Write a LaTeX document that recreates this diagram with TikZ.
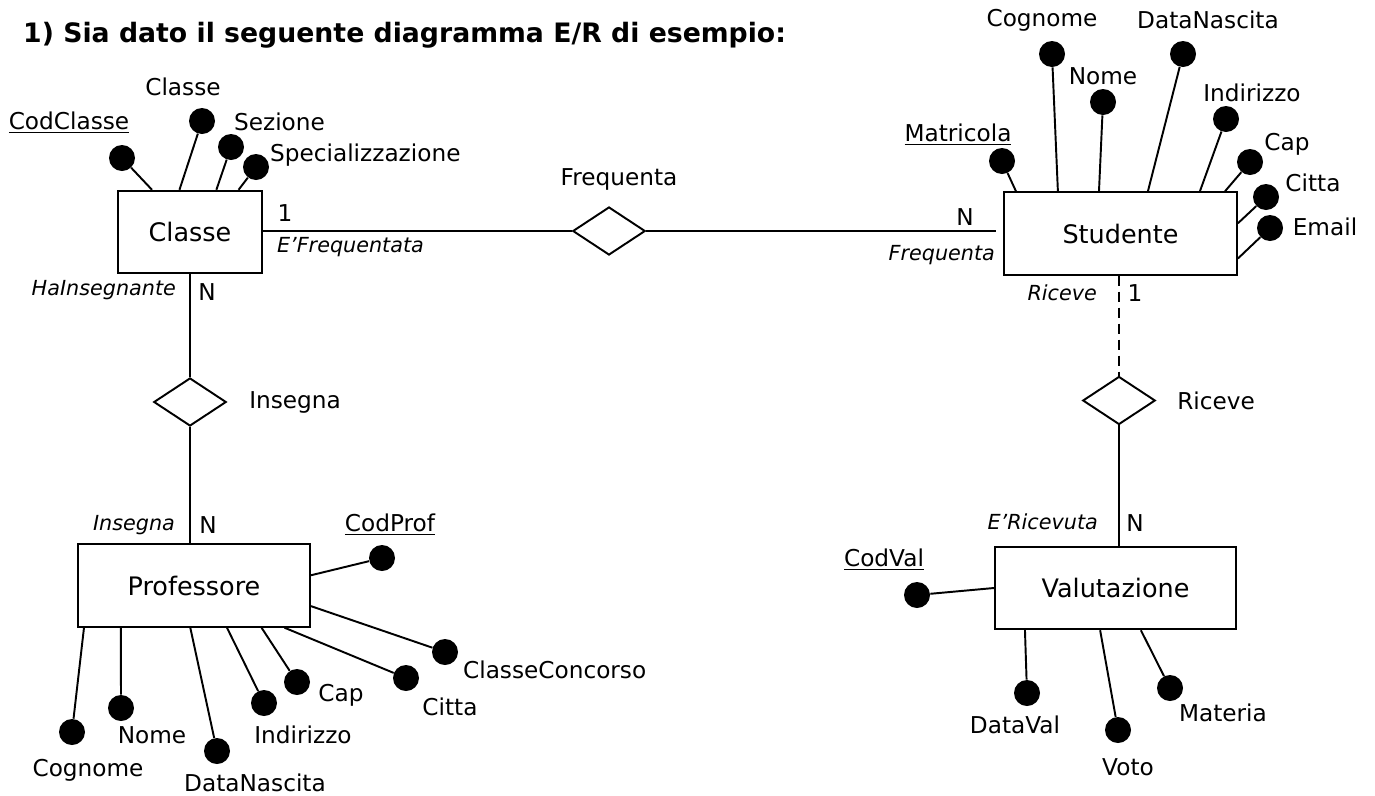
\documentclass[tikz,border=0pt]{standalone}
\usepackage{fontspec}
\setmainfont{DejaVu Sans}
\usetikzlibrary{shapes.geometric,positioning}

\begin{document}
\begin{tikzpicture}[
    x=0.2mm, y=-0.2mm,
    entity/.style={rectangle, draw, line width=1.1pt, minimum height=1.65cm, font=\fontsize{14.5}{17}\selectfont},
    relation/.style={diamond, draw, line width=1.1pt, minimum width=1.45cm, minimum height=0.96cm, inner sep=0pt},
    attr/.style={circle, fill=black, minimum size=0.52cm, inner sep=0pt},
    txt/.style={font=\fontsize{13.2}{15}\selectfont, inner sep=1pt},
    role/.style={font=\itshape\fontsize{11.8}{14}\selectfont, inner sep=1pt},
    link/.style={line width=1.1pt}
]
\useasboundingbox (0,0) rectangle (1375,796);

% Title
\node[anchor=west, font=\bfseries\fontsize{15.2}{18}\selectfont] (titolo) at (17,35) {1) Sia dato il seguente diagramma E/R di esempio:};

% Entities
\node[entity, minimum width=2.88cm] (classe) at (190,232) {Classe};
\node[entity, minimum width=4.66cm] (studente) at (1120.5,233.5) {Studente};
\node[entity, minimum width=4.64cm] (prof) at (194,585.5) {Professore};
\node[entity, minimum width=4.82cm] (valut) at (1115.5,588) {Valutazione};

% Relationships
\node[relation] (frequenta) at (609,231) {};
\node[relation] (insegna) at (190,402) {};
\node[relation] (riceve) at (1119,400.5) {};
\node[txt, above=0.28cm of frequenta, xshift=0.2cm] (frequentaL) {Frequenta};
\node[txt, right=0.4cm of insegna] (insegnaL) {Insegna};
\node[txt, right=0.38cm of riceve] (riceveL) {Riceve};

% Links between entities
\draw[link] (classe.east |- frequenta) -- (frequenta);
\draw[link, shorten >=0.14cm] (frequenta) -- (frequenta -| studente.west);
\draw[link] (classe) -- (insegna);
\draw[link] (insegna) -- (insegna |- prof.north);
\draw[link, dash pattern=on 2mm off 1.2mm] (riceve |- studente.south) -- (riceve);
\draw[link] (riceve) -- (riceve |- valut.north);

% Cardinalities and roles
\node[txt] (c1) at (285,213) {1};
\node[role, anchor=west] (r1) at (275,247) {E’Frequentata};
\node[txt] (c2) at (965,217) {N};
\node[role, anchor=east] (r2) at (997,255) {Frequenta};
\node[role, anchor=east] (r3) at (178,290) {HaInsegnante};
\node[txt] (c3) at (207,292) {N};
\node[role, anchor=east] (r4) at (177,525) {Insegna};
\node[txt] (c4) at (208,525) {N};
\node[role, anchor=east] (r5) at (1099,293) {Riceve};
\node[txt] (c5) at (1135,293) {1};
\node[role, anchor=east] (r6) at (1100,522) {E’Ricevuta};
\node[txt] (c6) at (1135,523) {N};

% Attributes of Classe
\node[attr] (codclasse) at (122,158) {};
\node[txt] at (69,123) {\underline{CodClasse}};
\draw[link] (codclasse) -- (classe.132);
\node[attr] (nomeclasse) at (202,121) {};
\node[txt] at (183,87) {Classe};
\draw[link] (nomeclasse) -- (classe.104);
\node[attr] (sezione) at (231,147) {};
\node[txt, anchor=west] at (232,122) {Sezione};
\draw[link] (sezione) -- (classe.58);
\node[attr] (spec) at (256,167) {};
\node[txt, anchor=west] at (268,155) {Specializzazione};
\draw[link] (spec) -- (classe.41);

% Attributes of Studente
\node[attr] (matricola) at (1002,161) {};
\node[txt] at (958,135) {\underline{Matricola}};
\draw[link] (matricola) -- (studente.158);
\node[attr] (scognome) at (1052,54) {};
\node[txt] at (1042,20) {Cognome};
\draw[link] (scognome) -- (studente.146);
\node[attr] (snome) at (1103,102) {};
\node[txt] at (1103,76) {Nome};
\draw[link] (snome) -- (studente.117);
\node[attr] (sdata) at (1183,54) {};
\node[txt] at (1208,20) {DataNascita};
\draw[link] (sdata) -- (studente.57);
\node[attr] (sind) at (1226,119) {};
\node[txt] at (1252,93) {Indirizzo};
\draw[link] (sind) -- (studente.28.5);
\node[attr] (scap) at (1250,162) {};
\node[txt] at (1287,144) {Cap};
\draw[link] (scap) -- (studente.22.8);
\node[attr] (scitta) at (1266,197) {};
\node[txt] at (1313,183) {Citta};
\draw[link] (scitta) -- (studente.5.6);
\node[attr] (semail) at (1270,228) {};
\node[txt] at (1325,227) {Email};
\draw[link] (semail) -- (studente.348.6);

% Attributes of Professore
\node[attr] (codprof) at (382,558) {};
\node[txt] at (390,525) {\underline{CodProf}};
\draw[link] (codprof) -- (prof.5.7);
\node[attr] (pclasse) at (445,652) {};
\node[txt, anchor=west] at (461,670) {ClasseConcorso};
\draw[link] (pclasse) -- (prof.350);
\node[attr] (pcitta) at (406,678) {};
\node[txt] at (450,707) {Citta};
\draw[link] (pcitta) -- (prof.335.7);
\node[attr] (pcap) at (297,682) {};
\node[txt] at (341,695) {Cap};
\draw[link] (pcap) -- (prof.328.2);
\node[attr] (pind) at (264,703) {};
\node[txt] at (303,735) {Indirizzo};
\draw[link] (pind) -- (prof.308.5);
\node[attr] (pdata) at (217,751) {};
\node[txt] at (255,783) {DataNascita};
\draw[link] (pdata) -- (prof.265.9);
\node[attr] (pnome) at (121,708) {};
\node[txt] at (152,735) {Nome};
\draw[link] (pnome) -- (prof.210.3);
\node[attr] (pcognome) at (72,732) {};
\node[txt] at (88,770) {Cognome};
\draw[link] (pcognome) -- (prof.201.4);

% Attributes of Valutazione
\node[attr] (codval) at (917,595) {};
\node[txt] at (884,560) {\underline{CodVal}};
\draw[link] (codval) -- (valut.180);
\node[attr] (dataval) at (1027,693) {};
\node[txt] at (1015,725) {DataVal};
\draw[link] (dataval) -- (valut.205.1);
\node[attr] (voto) at (1118,730) {};
\node[txt] at (1128,767) {Voto};
\draw[link] (voto) -- (valut.250.5);
\node[attr] (materia) at (1170,688) {};
\node[txt] at (1223,713) {Materia};
\draw[link] (materia) -- (valut.301.9);

\end{tikzpicture}
\end{document}
